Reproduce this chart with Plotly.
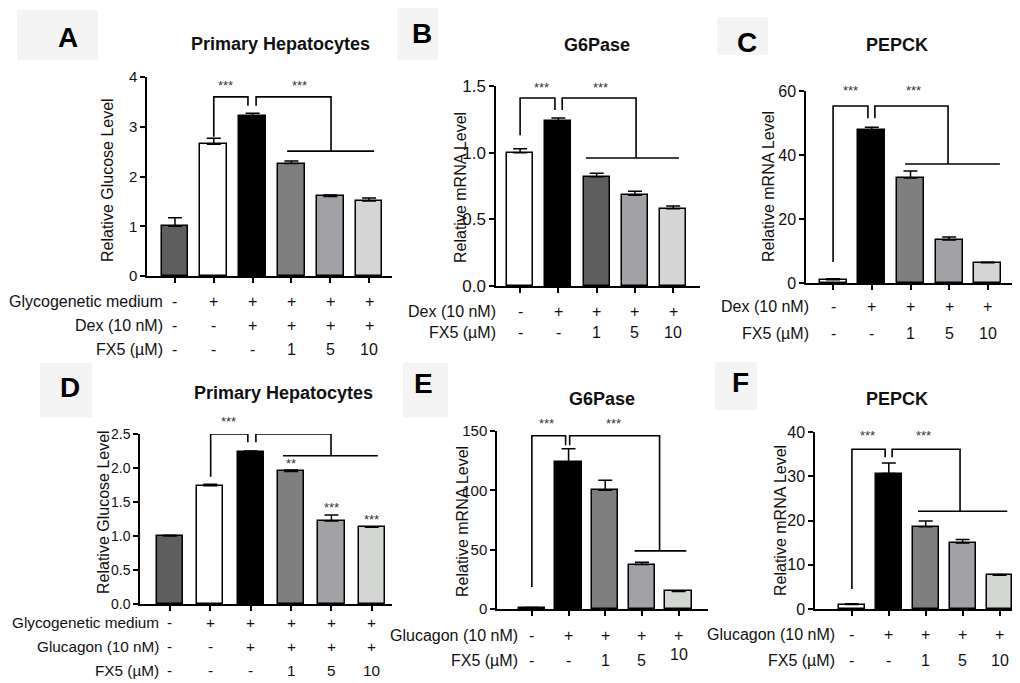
import plotly.graph_objects as go

W, H = 1020, 683
OFF = 8  # the page body adds an 8 px margin, so positions are shifted back by it
FONT = "Liberation Sans, Arial, sans-serif"

# values: bar height and upper error (SEM)
a_values = [1.0, 2.65, 3.22, 2.26, 1.60, 1.51]
a_errors = [0.17, 0.12, 0.05, 0.05, 0.03, 0.06]
b_values = [1.0, 1.24, 0.82, 0.68, 0.58]
b_errors = [0.03, 0.02, 0.025, 0.03, 0.02]
c_values = [1.0, 47.8, 32.8, 13.4, 6.3]
c_errors = [0.3, 0.9, 2.2, 1.0, 0.2]
d_values = [1.0, 1.74, 2.24, 1.95, 1.22, 1.13]
d_errors = [0.01, 0.02, 0.01, 0.02, 0.09, 0.005]
e_values = [1.0, 124, 100, 37.5, 14.8]
e_errors = [0.3, 11, 8.5, 2.0, 0.6]
f_values = [1.0, 30.6, 18.6, 14.9, 7.6]
f_errors = [0.2, 2.4, 1.3, 0.8, 0.2]

# treatment rows printed under the bars
glyco_row = ["-", "+", "+", "+", "+", "+"]
hormone6_row = ["-", "-", "+", "+", "+", "+"]
fx5_6_row = ["-", "-", "-", "1", "5", "10"]
hormone5_row = ["-", "+", "+", "+", "+"]
fx5_5_row = ["-", "-", "1", "5", "10"]

# per-bar significance in D
d_bar_stars = ["", "", "", "**", "***", "***"]

# bar fills
six_colors = ["#5e5e5e", "#ffffff", "#000000", "#7f7f7f", "#a2a2a6", "#d4d6d4"]
b_colors = ["#ffffff", "#000000", "#5e5e5e", "#a2a2a6", "#d4d6d4"]
five_colors = ["#ffffff", "#000000", "#7f7f7f", "#a2a2a6", "#d4d6d4"]


def xd(p):
    return (p - OFF) / W


def yd(p):
    return 1 - (p - OFF) / H


panels = [
    dict(letter="A", title="Primary Hepatocytes", ytitle="Relative Glucose Level",
         values=a_values, errors=a_errors, colors=six_colors,
         rows=[("Glycogenetic medium", glyco_row), ("Dex (10 nM)", hormone6_row), ("FX5 (µM)", fx5_6_row)],
         box=(147, 392, 77, 276), xr=(-0.72, 5.59), yticks=[0, 1, 2, 3, 4], fmt="{:g}", tsize=15, barw=0.69,
         brackets=[(1.0, 2.80, 1.88, 3.6, 3.42), (2.09, 3.42, 4.02, 3.6, 2.51)], hline=(2.89, 5.13, 2.51),
         stars=[(1.31, 3.82, "***"), (3.2, 3.82, "***")],
         title_xy=(280, 44), ytitle_xy=(107, 180), letter_xy=(68, 38), letter_box=(17, 10, 98, 60),
         label_x=165, label_size=16, rows_y=[302, 325, 349]),
    dict(letter="B", title="G6Pase", ytitle="Relative mRNA Level",
         values=b_values, errors=b_errors, colors=b_colors,
         rows=[("Dex (10 nM)", hormone5_row), ("FX5 (µM)", fx5_5_row)],
         box=(496, 700, 86, 286), xr=(-0.63, 4.7), yticks=[0, 0.5, 1.0, 1.5], fmt="{:.1f}", tsize=17, barw=0.68,
         brackets=[(0, 1.13, 0.91, 1.41, 1.32), (1.1, 1.32, 3.03, 1.41, 0.96)], hline=(1.72, 4.15, 0.96),
         stars=[(0.57, 1.49, "***"), (2.09, 1.49, "***")],
         title_xy=(597, 45), ytitle_xy=(460, 188), letter_xy=(422, 33), letter_box=(397, 8, 438, 60),
         label_x=498, label_size=16, rows_y=[311, 332]),
    dict(letter="C", title="PEPCK", ytitle="Relative mRNA Level",
         values=c_values, errors=c_errors, colors=five_colors,
         rows=[("Dex (10 nM)", hormone5_row), ("FX5 (µM)", fx5_5_row)],
         box=(806, 1015, 91, 283), xr=(-0.7, 4.7), yticks=[0, 20, 40, 60], fmt="{:g}", tsize=16, barw=0.7,
         brackets=[(0, 6.6, 0.9, 55.3, 51.5), (1.08, 51.5, 2.97, 55.3, 37.2)], hline=(1.86, 4.31, 37.2),
         stars=[(0.44, 60.3, "***"), (2.07, 60.3, "***")],
         title_xy=(897, 45), ytitle_xy=(768, 187), letter_xy=(747, 42), letter_box=(717, 17, 768, 55),
         label_x=811, label_size=16, rows_y=[306, 333]),
    dict(letter="D", title="Primary Hepatocytes", ytitle="Relative Glucose Level",
         values=d_values, errors=d_errors, colors=six_colors,
         rows=[("Glycogenetic medium", glyco_row), ("Glucagon (10 nM)", hormone6_row), ("FX5 (µM)", fx5_6_row)],
         box=(140, 392, 434, 604), xr=(-0.74, 5.5), yticks=[0, 0.5, 1.0, 1.5, 2.0, 2.5], fmt="{:.1f}", tsize=14,
         barw=0.65,
         brackets=[(1.01, 1.87, 1.93, 2.5, 2.38), (2.13, 2.38, 3.99, 2.5, 2.18)], hline=(2.8, 5.15, 2.18),
         stars=[(1.46, 2.68, "***")],
         title_xy=(283, 393), ytitle_xy=(103, 512), letter_xy=(70, 387), letter_box=(40, 363, 92, 417),
         label_x=161, label_size=15.3, rows_y=[622, 646, 670]),
    dict(letter="E", title="G6Pase", ytitle="Relative mRNA Level",
         values=e_values, errors=e_errors, colors=five_colors,
         rows=[("Glucagon (10 nM)", hormone5_row), ("FX5 (µM)", fx5_5_row)],
         box=(497, 708, 431, 609), xr=(-0.95, 4.8), yticks=[0, 50, 100, 150], fmt="{:g}", tsize=15, barw=0.72,
         brackets=[(0, 18.5, 0.92, 146, 138), (1.03, 138, 3.48, 146, 49)], hline=(2.8, 4.21, 49),
         stars=[(0.41, 156, "***"), (2.23, 156, "***")],
         title_xy=(602, 399), ytitle_xy=(462, 522), letter_xy=(423, 383), letter_box=(403, 363, 448, 417),
         label_x=520, label_size=16, rows_y=[635, 660], last_raise=6),
    dict(letter="F", title="PEPCK", ytitle="Relative mRNA Level",
         values=f_values, errors=f_errors, colors=five_colors,
         rows=[("Glucagon (10 nM)", hormone5_row), ("FX5 (µM)", fx5_5_row)],
         box=(815, 1018, 432, 609), xr=(-1.0, 4.5), yticks=[0, 10, 20, 30, 40], fmt="{:g}", tsize=16, barw=0.7,
         brackets=[(0, 4.5, 0.9, 36.1, 34.3), (1.09, 34.3, 2.93, 36.1, 22.1)], hline=(1.79, 4.21, 22.1),
         stars=[(0.41, 39.3, "***"), (1.93, 39.3, "***")],
         title_xy=(897, 399), ytitle_xy=(780, 521), letter_xy=(740, 382), letter_box=(715, 362, 757, 410),
         label_x=837, label_size=16, rows_y=[634, 660]),
]

fig = go.Figure()
layout = {}
annotations = []
shapes = []


def txt(x, y, text, size, xref="paper", yref="paper", xanchor="center", **kw):
    d = dict(x=x, y=y, xref=xref, yref=yref, text=text, showarrow=False,
             xanchor=xanchor, yanchor="middle", font=dict(family=FONT, size=size, color=kw.pop("color", "#111")))
    d.update(kw)
    annotations.append(d)


for k, p in enumerate(panels, start=1):
    sfx = "" if k == 1 else str(k)
    xa, ya = "x" + sfx, "y" + sfx
    n = len(p["values"])
    left, right, top, zero = p["box"]
    ymax = p["yticks"][-1]

    def ypix(v):
        # data value -> page pixel row, used for marks that sit above the axis range
        return zero - v / ymax * (zero - top)

    fig.add_trace(go.Bar(
        x=list(range(n)), y=p["values"], width=p["barw"],
        marker=dict(color=p["colors"], line=dict(color="black", width=1.5)),
        error_y=dict(type="data", symmetric=False, array=p["errors"], arrayminus=[0] * n,
                     color="black", thickness=1.5, width=7),
        xaxis=xa, yaxis=ya, showlegend=False, hoverinfo="skip"))

    layout["xaxis" + sfx] = dict(
        domain=[xd(left), xd(right)], range=list(p["xr"]), anchor=ya, automargin=False,
        showline=True, linecolor="black", linewidth=1.5, ticks="outside", ticklen=5, tickwidth=1.5,
        tickcolor="black", tickvals=list(range(n)), showticklabels=False, showgrid=False, zeroline=False)
    layout["yaxis" + sfx] = dict(
        domain=[yd(zero), yd(top)], range=[0, ymax], anchor=xa, automargin=False,
        showline=True, linecolor="black", linewidth=1.5, ticks="outside", ticklen=5, tickwidth=1.5,
        tickcolor="black", tickvals=p["yticks"], ticktext=[p["fmt"].format(t) for t in p["yticks"]],
        tickfont=dict(family=FONT, size=p["tsize"], color="#111"), showgrid=False, zeroline=False)

    # significance brackets
    for x0, y0, x1, yt, y1 in p["brackets"]:
        shapes.append(dict(type="path", xref=xa, yref=ya,
                           path=f"M {x0},{y0} L {x0},{yt} L {x1},{yt} L {x1},{y1}",
                           line=dict(color="black", width=1.6)))
    hx0, hx1, hy = p["hline"]
    shapes.append(dict(type="line", xref=xa, yref=ya, x0=hx0, x1=hx1, y0=hy, y1=hy,
                       line=dict(color="black", width=1.6)))
    for sx, sy, st in p["stars"]:
        txt(sx, yd(ypix(sy)), st, 13, xref=xa, color="#333")
    if p["letter"] == "D":
        for i, st in enumerate(d_bar_stars):
            if st:
                txt(i, yd(ypix(p["values"][i] + p["errors"][i]) - 7), st, 13, xref=xa, color="#333")

    # treatment rows
    for r, ((label, signs), ry) in enumerate(zip(p["rows"], p["rows_y"])):
        txt(xd(p["label_x"]), yd(ry), label, p["label_size"], xanchor="right")
        for i, s in enumerate(signs):
            shift = p.get("last_raise", 0) if (r == len(p["rows"]) - 1 and i == n - 1) else 0
            txt(i, yd(ry - shift), s, p["label_size"], xref=xa)

    # titles
    tx, ty = p["title_xy"]
    txt(xd(tx), yd(ty), "<b>" + p["title"] + "</b>", 18)
    ax_, ay_ = p["ytitle_xy"]
    txt(xd(ax_), yd(ay_), p["ytitle"], 16, textangle=-90)

    # panel letter on a pale box
    bx0, by0, bx1, by1 = p["letter_box"]
    shapes.append(dict(type="rect", xref="paper", yref="paper", x0=xd(bx0), x1=xd(bx1), y0=yd(by1), y1=yd(by0),
                       fillcolor="#f4f4f4", line=dict(width=0), layer="below"))
    lx, ly = p["letter_xy"]
    txt(xd(lx), yd(ly), "<b>" + p["letter"] + "</b>", 28, color="black")

fig.update_layout(
    width=W, height=H, autosize=False, template="none",
    margin=dict(l=0, r=0, t=0, b=0, pad=0, autoexpand=False),
    paper_bgcolor="white", plot_bgcolor="white",
    annotations=annotations, shapes=shapes, bargap=0, **layout)

fig.write_html("out.html")
